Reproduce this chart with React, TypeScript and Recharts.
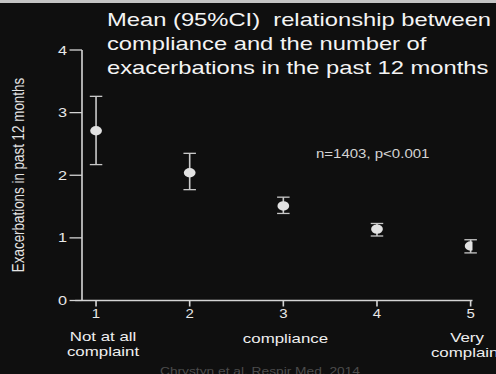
import { ScatterChart, Scatter, XAxis, YAxis, ErrorBar, ReferenceLine } from 'recharts';

// values
const compliance = [1, 2, 3, 4, 5];
const meanExac = [2.71, 2.04, 1.51, 1.14, 0.87];
const ciLow = [2.17, 1.77, 1.39, 1.03, 0.76];
const ciHigh = [3.26, 2.35, 1.65, 1.23, 0.97];
const yTicks = [0, 1, 2, 3, 4];
const xTicks = [1, 2, 3, 4, 5];

const titleLines = [
  'Mean (95%CI)  relationship between',
  'compliance and the number of',
  'exacerbations in the past 12 months',
];

const FONT = '"Liberation Sans", Arial, sans-serif';
// the slide is stretched sideways, so draw narrow and scale up
const SX = 1.25;
const W = 496 / SX;
const H = 374;

const data = compliance.map((c, i) => ({
  x: c,
  y: meanExac[i],
  err: [meanExac[i] - ciLow[i], ciHigh[i] - meanExac[i]],
}));

const Dot = (props: any) => <circle cx={props.cx} cy={props.cy} r={4.7} fill="#e2e2e2" />;

export default function App() {
  return (
    <div
      style={{
        position: 'absolute',
        left: 0,
        top: 0,
        width: 496,
        height: H,
        background: '#0f0f0f',
        overflow: 'hidden',
      }}
    >
      <div style={{ position: 'absolute', left: 0, top: 0, width: 496, height: 3, background: '#c4c4c4' }} />
      <div
        style={{
          position: 'absolute',
          left: 0,
          top: 0,
          width: W,
          height: H,
          transform: `scaleX(${SX})`,
          transformOrigin: '0 0',
        }}
      >
        <ScatterChart width={W} height={H} margin={{ top: 50, right: 18.8, bottom: 43.5, left: 20.6 }}>
          <XAxis
            type="number"
            dataKey="x"
            domain={[0.85, 5.02]}
            ticks={xTicks}
            allowDataOverflow
            height={30}
            tickSize={6}
            tickMargin={3}
            axisLine={{ stroke: '#d4d4d4', strokeWidth: 1.3 }}
            tickLine={{ stroke: '#d4d4d4', strokeWidth: 1.3 }}
            tick={{ fill: '#e8e8e8', fontSize: 12, fontFamily: FONT }}
          />
          <YAxis
            type="number"
            dataKey="y"
            domain={[0, 4]}
            ticks={yTicks}
            width={45}
            tickSize={10}
            tickMargin={2}
            axisLine={{ stroke: '#d4d4d4', strokeWidth: 1.3 }}
            tickLine={{ stroke: '#d4d4d4', strokeWidth: 1.3 }}
            tick={{ fill: '#e8e8e8', fontSize: 13, fontFamily: FONT }}
          />
          <ReferenceLine
            segment={[
              { x: 0.776, y: 0 },
              { x: 0.85, y: 0 },
            ]}
            ifOverflow="visible"
            stroke="#d4d4d4"
            strokeWidth={1.3}
          />
          <Scatter data={data} shape={Dot} isAnimationActive={false}>
            <ErrorBar dataKey="err" direction="y" width={5} stroke="#c8c8c8" strokeWidth={1.3} />
          </Scatter>
        </ScatterChart>
        <svg
          width={W}
          height={H}
          style={{ position: 'absolute', left: 0, top: 0, pointerEvents: 'none' }}
          fontFamily={FONT}
        >
          {titleLines.map((t, i) => (
            <text
              key={t}
              x={85.6}
              y={26.5 + i * 23.6}
              fontSize={19}
              fill="#f4f4f4"
              style={{ whiteSpace: 'pre' }}
            >
              {t}
            </text>
          ))}
          <text x={252.8} y={158} fontSize={12} fill="#d4d4d4">
            n=1403, p&lt;0.001
          </text>
          <text
            x={14.4}
            y={175}
            fontSize={13.4}
            fill="#e4e4e4"
            textAnchor="middle"
            dominantBaseline="central"
            transform="rotate(-90 14.4 175)"
          >
            Exacerbations in past 12 months
          </text>
          <text x={82.4} y={341} fontSize={13.5} fill="#eeeeee" textAnchor="middle">
            Not at all
          </text>
          <text x={82.4} y={356.5} fontSize={13.5} fill="#eeeeee" textAnchor="middle">
            complaint
          </text>
          <text x={228.4} y={343} fontSize={13.5} fill="#eeeeee" textAnchor="middle">
            compliance
          </text>
          <text x={373.6} y={342} fontSize={13.5} fill="#eeeeee" textAnchor="middle">
            Very
          </text>
          <text x={373.6} y={357.5} fontSize={13.5} fill="#eeeeee" textAnchor="middle">
            complaint
          </text>
          <text x={128} y={375} fontSize={11} fill="#4c4c4c">
            Chrystyn et al. Respir Med. 2014
          </text>
        </svg>
      </div>
    </div>
  );
}
